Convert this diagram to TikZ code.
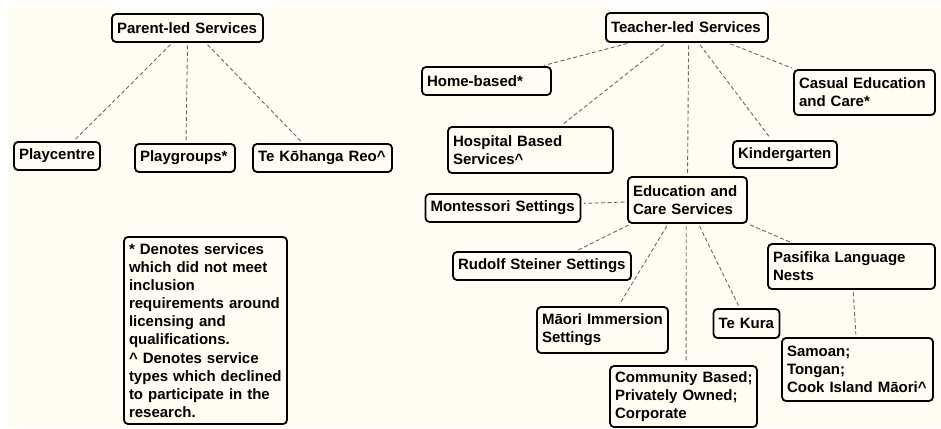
\documentclass[tikz,border=0pt]{standalone}
\usepackage{fontspec}
\setmainfont{Liberation Sans}
\usetikzlibrary{calc}
\definecolor{bg}{RGB}{255,253,242}
\definecolor{ln}{RGB}{105,105,105}
\hyphenpenalty=10000
\exhyphenpenalty=10000
\begin{document}
\begin{tikzpicture}[x=1pt,y=-1pt,
  box/.style={draw=black, line width=1.8pt, rounded corners=4pt, fill=bg,
    font=\fontsize{15}{17.8}\selectfont\bfseries, align=left,
    inner xsep=5pt, inner ysep=0pt, anchor=center},
  con/.style={draw=ln, line width=0.9pt, dash pattern=on 4pt off 2.5pt,
    shorten <=2.5pt, shorten >=2.5pt}]
\useasboundingbox (0,0) rectangle (941,428);
\fill[white] (0,0) rectangle (941,428);
\fill[bg] (9,7) rectangle (941,428);

% Parent-led side
\node[box, text width=141pt, minimum height=28pt] (parent) at (187.5,28) {\mbox{Parent-led Services}};
\node[box, text width=76pt, minimum height=28pt] (playcentre) at (57,156) {\mbox{Playcentre}};
\node[box, text width=90pt, minimum height=28pt] (playgroups) at (185,158) {\mbox{Playgroups*}};
\node[box, text width=129pt, minimum height=28pt] (kohanga) at (322.5,158) {\mbox{Te Kōhanga Reo\textasciicircum}};
\node[box, text width=153pt, minimum height=187pt, font=\fontsize{15}{18.1}\selectfont\bfseries] (legend) at (205.5,330.5)
  {\mbox{* Denotes services}\\\mbox{which did not meet}\\\mbox{inclusion}\\\mbox{requirements around}\\\mbox{licensing and}\\\mbox{qualifications.}\\\mbox{\textasciicircum\ Denotes service}\\\mbox{types which declined}\\\mbox{to participate in the}\\\mbox{research.}};

% Teacher-led side
\node[box, text width=152pt, minimum height=29pt] (teacher) at (687,27.5) {\mbox{Teacher-led Services}};
\node[box, text width=119pt, minimum height=28pt] (home) at (486.5,81) {\mbox{Home-based*}};
\node[box, text width=131pt, minimum height=45pt] (casual) at (864.5,92.5) {\mbox{Casual Education}\\\mbox{and Care*}};
\node[box, text width=155pt, minimum height=46pt] (hospital) at (530.5,150) {\mbox{Hospital Based}\\\mbox{Services\textasciicircum}};
\node[box, text width=94pt, minimum height=27pt] (kinder) at (785,154.5) {\mbox{Kindergarten}};
\node[box, text width=109pt, minimum height=46pt] (edu) at (687.5,200) {\mbox{Education and}\\\mbox{Care Services}};
\node[box, text width=145pt, minimum height=28pt] (mont) at (503,208) {\mbox{Montessori Settings}};
\node[box, text width=168pt, minimum height=28pt] (rudolf) at (542,266) {\mbox{Rudolf Steiner Settings}};
\node[box, text width=157pt, minimum height=45pt] (pasifika) at (851.5,266.5) {\mbox{Pasifika Language}\\\mbox{Nests}};
\node[box, text width=121pt, minimum height=46pt] (maori) at (602.5,330) {\mbox{Māori Immersion}\\\mbox{Settings}};
\node[box, text width=56pt, minimum height=29pt] (tekura) at (746.5,323.5) {\mbox{Te Kura}};
\node[box, text width=141pt, minimum height=63pt] (samoan) at (857.5,369.5) {\mbox{Samoan;}\\\mbox{Tongan;}\\\mbox{Cook Island Māori\textasciicircum}};
\node[box, text width=137pt, minimum height=61pt] (community) at (683.5,396.5) {\mbox{Community Based;}\\\mbox{Privately Owned;}\\\mbox{Corporate}};

% connectors: parent-led
\draw[con] ($(parent.south west)!0.40!(parent.south east)$) -- ($(playcentre.north west)!0.69!(playcentre.north east)$);
\draw[con] ($(parent.south west)!0.50!(parent.south east)$) -- ($(playgroups.north west)!0.51!(playgroups.north east)$);
\draw[con] ($(parent.south west)!0.62!(parent.south east)$) -- ($(kohanga.north west)!0.36!(kohanga.north east)$);

% connectors: teacher-led
\draw[con] ($(teacher.south west)!0.15!(teacher.south east)$) -- ($(home.north west)!0.92!(home.north east)$);
\draw[con] ($(teacher.south west)!0.37!(teacher.south east)$) -- ($(hospital.north west)!0.68!(hospital.north east)$);
\draw[con] ($(teacher.south west)!0.51!(teacher.south east)$) -- ($(edu.north west)!0.50!(edu.north east)$);
\draw[con] ($(teacher.south west)!0.57!(teacher.south east)$) -- ($(kinder.north west)!0.375!(kinder.north east)$);
\draw[con] ($(teacher.south west)!0.75!(teacher.south east)$) -- ($(casual.north west)!0.01!(casual.north east)$);

% connectors: education and care
\draw[con] ($(edu.north west)!0.54!(edu.south west)$) -- ($(mont.north east)!0.35!(mont.south east)$);
\draw[con] ($(edu.south west)!0.03!(edu.south east)$) -- ($(rudolf.north west)!0.69!(rudolf.north east)$);
\draw[con] ($(edu.south west)!0.34!(edu.south east)$) -- ($(maori.north west)!0.62!(maori.north east)$);
\draw[con] ($(edu.south west)!0.49!(edu.south east)$) -- ($(community.north west)!0.517!(community.north east)$);
\draw[con] ($(edu.south west)!0.59!(edu.south east)$) -- ($(tekura.north west)!0.40!(tekura.north east)$);
\draw[con] (edu.south east) -- ($(pasifika.north west)!0.15!(pasifika.north east)$);
\draw[con] ($(pasifika.south west)!0.51!(pasifika.south east)$) -- ($(samoan.north west)!0.49!(samoan.north east)$);
\end{tikzpicture}
\end{document}
